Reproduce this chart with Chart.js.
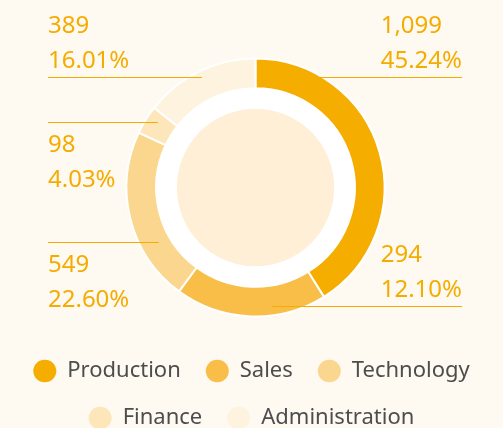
<!DOCTYPE html>
<html>
<head>
<meta charset="utf-8">
<script src="https://cdn.jsdelivr.net/npm/chart.js@4"></script>
<style>
    html, body { margin: 0; padding: 0; background: #FEFAF2; overflow: hidden; }
    #wrap { width: 503px; height: 428px; position: relative; }
</style>
</head>
<body>
<div id="wrap"><canvas id="headcount-chart"></canvas></div>
<script>
const categories = ['Production', 'Sales', 'Technology', 'Finance', 'Administration'];
// numbers printed in the labels
const headcount = [1099, 294, 549, 98, 389];
// share of the ring each slice takes in the picture (%)
const arcShare = [41.1, 19.0, 21.9, 3.6, 14.4];
const sliceColors = ['#F5AD00', '#F8BE48', '#FBD68F', '#FDE6BA', '#FEF3DF'];

const amber = '#F5AC00';
const total = headcount.reduce((a, b) => a + b, 0);

// where each leader line leaves its slice (fraction along the arc, fraction of radius)
// and whether the text sits above or below the line
const leaderSpots = [
    { at: 0.205, r: 0.99, text: 'above' },
    { at: 0.35, r: 0.93, text: 'above' },
    { at: 0.31, r: 0.86, text: 'below' },
    { at: 0.65, r: 0.91, text: 'below' },
    { at: 0.50, r: 0.95, text: 'above' }
];

// draw the white band and the pale disc inside the ring
const centerDisc = {
    id: 'centerDisc',
    beforeDatasetsDraw(chart) {
        const arc = chart.getDatasetMeta(0).data[0];
        if (!arc) return;
        const { x, y, innerRadius, outerRadius } = arc.getProps(['x', 'y', 'innerRadius', 'outerRadius'], true);
        const ctx = chart.ctx;
        ctx.save();
        ctx.fillStyle = '#FFFFFF';
        ctx.beginPath();
        ctx.arc(x, y, innerRadius, 0, Math.PI * 2);
        ctx.fill();
        ctx.fillStyle = '#FEEFD6';
        ctx.beginPath();
        ctx.arc(x, y, outerRadius * 0.61, 0, Math.PI * 2);
        ctx.fill();
        ctx.restore();
    }
};

// value + percent labels with horizontal leader lines to the edges
const leaderLabels = {
    id: 'leaderLabels',
    afterDatasetsDraw(chart) {
        const ctx = chart.ctx;
        const meta = chart.getDatasetMeta(0);
        ctx.save();
        ctx.font = '24px "Noto Sans"';
        ctx.textBaseline = 'alphabetic';
        ctx.textAlign = 'left';
        meta.data.forEach((arc, i) => {
            const spot = leaderSpots[i];
            const { x, y, startAngle, endAngle, outerRadius } =
                arc.getProps(['x', 'y', 'startAngle', 'endAngle', 'outerRadius'], true);
            const a = startAngle + (endAngle - startAngle) * spot.at;
            const ax = x + Math.cos(a) * outerRadius * spot.r;
            const ay = Math.round(y + Math.sin(a) * outerRadius * spot.r) + 0.5;
            const onRight = ax > x;
            const ex = onRight ? chart.width - 41 : 48;

            ctx.strokeStyle = amber;
            ctx.lineWidth = 1;
            ctx.beginPath();
            ctx.moveTo(ax, ay);
            ctx.lineTo(ex, ay);
            ctx.stroke();

            const lines = [
                headcount[i].toLocaleString('en-US'),
                (headcount[i] / total * 100).toFixed(2) + '%'
            ];
            const w = Math.max(...lines.map(t => ctx.measureText(t).width));
            const tx = onRight ? ex - w : ex;
            const base = spot.text === 'above' ? ay - 45 : ay + 29;
            ctx.fillStyle = amber;
            lines.forEach((t, k) => ctx.fillText(t, tx, base + k * 35));
        });
        ctx.restore();
    }
};

// nudge the ring a little right of the legend's centre line
const ringShift = {
    id: 'ringShift',
    afterLayout(chart) {
        chart.chartArea.left += 8;
        chart.chartArea.width = chart.chartArea.right - chart.chartArea.left;
    }
};

const ctx = document.getElementById('headcount-chart').getContext('2d');
new Chart(ctx, {
    type: 'doughnut',
    data: {
        labels: categories,
        datasets: [{
            data: arcShare,
            backgroundColor: sliceColors,
            borderColor: '#FFFFFF',
            borderWidth: 2
        }]
    },
    options: {
        responsive: true,
        maintainAspectRatio: false,
        animation: false,
        radius: 129,
        cutout: '77%',
        layout: {
            padding: { top: 40, bottom: -11, left: 0, right: 0 }
        },
        plugins: {
            tooltip: { enabled: false },
            legend: {
                position: 'bottom',
                labels: {
                    usePointStyle: true,
                    pointStyle: 'circle',
                    pointStyleWidth: 23,
                    boxHeight: 16,
                    padding: 25,
                    color: '#4D4D4D',
                    font: { family: 'Noto Sans', size: 22 },
                    generateLabels(chart) {
                        const items = Chart.overrides.doughnut.plugins.legend.labels.generateLabels(chart);
                        items.forEach(item => {
                            item.lineWidth = 0;
                            item.strokeStyle = 'rgba(0,0,0,0)';
                        });
                        return items;
                    }
                }
            }
        }
    },
    plugins: [ringShift, centerDisc, leaderLabels]
});
</script>
</body>
</html>
